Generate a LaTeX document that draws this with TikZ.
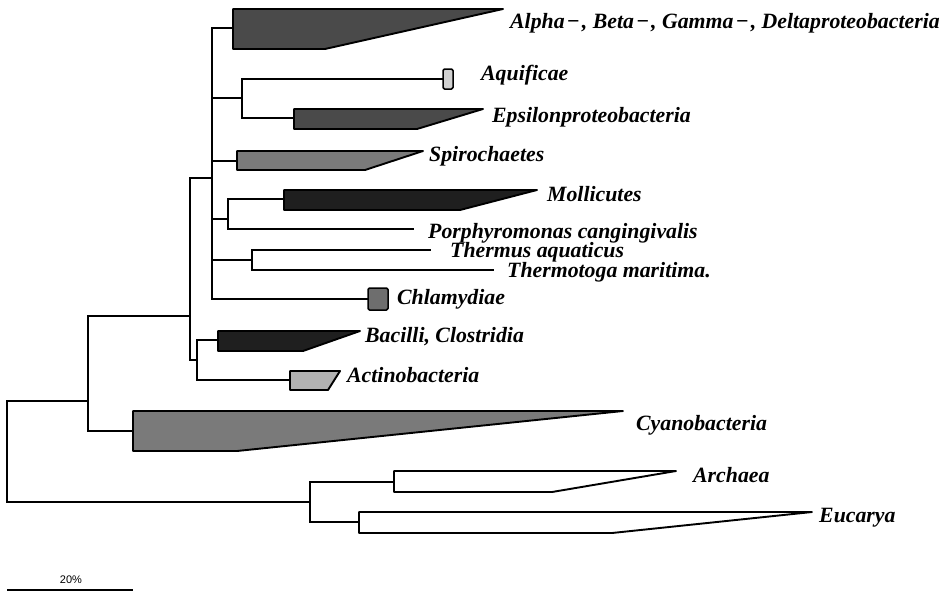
\documentclass[tikz,border=0pt]{standalone}
\usepackage{fontspec}
\setmainfont{Liberation Serif}
\newfontfamily\sbfont{Liberation Sans}
\begin{document}
\begin{tikzpicture}[x=1pt,y=-1pt,
  branch/.style={line width=1.3pt, line cap=rect},
  cladebox/.style={draw, line width=1.9pt, line join=round},
  lab/.style={inner sep=0pt, anchor=base west, font=\fontsize{21.8}{24}\selectfont\bfseries\itshape},
  sblab/.style={inner sep=0pt, font=\sbfont\fontsize{11}{13}\selectfont}]
\useasboundingbox (0,0) rectangle (942,592);
\definecolor{cdark}{gray}{0.29}
\definecolor{cblack}{gray}{0.12}
\definecolor{cmid}{gray}{0.48}
\definecolor{cmid2}{gray}{0.43}
\definecolor{clight}{gray}{0.70}
\definecolor{cpale}{gray}{0.82}
% internal nodes
\coordinate (r) at (7,401); \coordinate (rb) at (7,502);
\coordinate (n1t) at (88,316); \coordinate (n1b) at (88,431);
\coordinate (n2t) at (190,178); \coordinate (n2b) at (190,360);
\coordinate (n3t) at (212,28); \coordinate (n3b) at (212,299);
\coordinate (n4) at (242,98); \coordinate (n4t) at (242,79); \coordinate (n4b) at (242,118);
\coordinate (n5) at (228,219); \coordinate (n5t) at (228,199); \coordinate (n5b) at (228,229);
\coordinate (n6) at (252,260); \coordinate (n6t) at (252,250); \coordinate (n6b) at (252,270);
\coordinate (n7) at (197,360); \coordinate (n7t) at (197,340); \coordinate (n7b) at (197,380);
\coordinate (n8) at (310,502); \coordinate (n8t) at (310,482); \coordinate (n8b) at (310,522);
% tips
\coordinate (alpha) at (233,28);
\coordinate (aquif) at (443,79);
\coordinate (eps) at (294,118);
\coordinate (spiro) at (237,161);
\coordinate (moll) at (284,199);
\coordinate (porph) at (413,229);
\coordinate (thermus) at (430,250);
\coordinate (thermo) at (493,270);
\coordinate (chlam) at (368,299);
\coordinate (bac) at (218,340);
\coordinate (actino) at (290,380);
\coordinate (cyano) at (133,431);
\coordinate (arch) at (394,482);
\coordinate (euc) at (359,522);
% clade shapes
\newcommand\cladeshape[6]{\draw[cladebox, fill=#6] (#1,#2) -- (#5,#2) -- (#4,#3) -- (#1,#3) -- cycle;}
\cladeshape{233}{9}{49}{325}{503}{cdark}
\cladeshape{294}{109}{129}{417}{483}{cdark}
\cladeshape{237}{151}{170}{365}{423}{cmid}
\cladeshape{284}{190}{210}{460}{537}{cblack}
\cladeshape{218}{331}{351}{303}{360}{cblack}
\cladeshape{290}{371}{390}{328}{340}{clight}
\cladeshape{133}{411}{451}{237}{623}{cmid}
\cladeshape{394}{471}{492}{552}{676}{white}
\cladeshape{359}{512}{533}{612}{812}{white}
\draw[cladebox, fill=cpale, rounded corners=1.5pt, line width=1.5pt] (443,69) rectangle (453,89);
\draw[cladebox, fill=cmid2, rounded corners=1.5pt, line width=1.5pt] (368,288) rectangle (388,310);
% branches
\draw[branch] (r) -- (rb);
\draw[branch] (r) -- (n1t |- r);
\draw[branch] (rb) -- (n8);
\draw[branch] (n1t) -- (n1b);
\draw[branch] (n1t) -- (n2t |- n1t);
\draw[branch] (n1b) -- (cyano);
\draw[branch] (n2t) -- (n2b);
\draw[branch] (n2t) -- (n3t |- n2t);
\draw[branch] (n2b) -- (n7);
\draw[branch] (n3t) -- (n3b);
\draw[branch] (n3t) -- (alpha);
\draw[branch] (n3t |- n4) -- (n4);
\draw[branch] (n3t |- spiro) -- (spiro);
\draw[branch] (n3t |- n5) -- (n5);
\draw[branch] (n3t |- n6) -- (n6);
\draw[branch] (n3b) -- (chlam);
\draw[branch] (n4t) -- (n4b);
\draw[branch] (n4t) -- (aquif);
\draw[branch] (n4b) -- (eps);
\draw[branch] (n5t) -- (n5b);
\draw[branch] (n5t) -- (moll);
\draw[branch] (n5b) -- (porph);
\draw[branch] (n6t) -- (n6b);
\draw[branch] (n6t) -- (thermus);
\draw[branch] (n6b) -- (thermo);
\draw[branch] (n7t) -- (n7b);
\draw[branch] (n7t) -- (bac);
\draw[branch] (n7b) -- (actino);
\draw[branch] (n8t) -- (n8b);
\draw[branch] (n8t) -- (arch);
\draw[branch] (n8b) -- (euc);
% labels
\node[lab] (lalpha) at (510,28) {Alpha\kern2pt−\kern2pt, Beta\kern2pt−\kern2pt, Gamma\kern2pt−\kern2pt, Deltaproteobacteria};
\node[lab] (laquif) at (481,80) {Aquificae};
\node[lab] (leps) at (492,122) {Epsilonproteobacteria};
\node[lab] (lspiro) at (429,161) {Spirochaetes};
\node[lab] (lmoll) at (547,201) {Mollicutes};
\node[lab] (lporph) at (428,238) {Porphyromonas cangingivalis};
\node[lab] (lthermus) at (450,257) {Thermus aquaticus};
\node[lab] (lthermo) at (507,277) {Thermotoga maritima.};
\node[lab] (lchlam) at (397,304) {Chlamydiae};
\node[lab] (lbac) at (365,342) {Bacilli, Clostridia};
\node[lab] (lactino) at (347,382) {Actinobacteria};
\node[lab] (lcyano) at (636,430) {Cyanobacteria};
\node[lab] (larch) at (693,482) {Archaea};
\node[lab] (leuc) at (819,522) {Eucarya};
% scale bar
\coordinate (sbl) at (7,590); \coordinate (sbr) at (133,590);
\draw[line width=1.2pt] (sbl) -- (sbr);
\node[sblab] (sb) at (71,580) {20\%};
\end{tikzpicture}
\end{document}
